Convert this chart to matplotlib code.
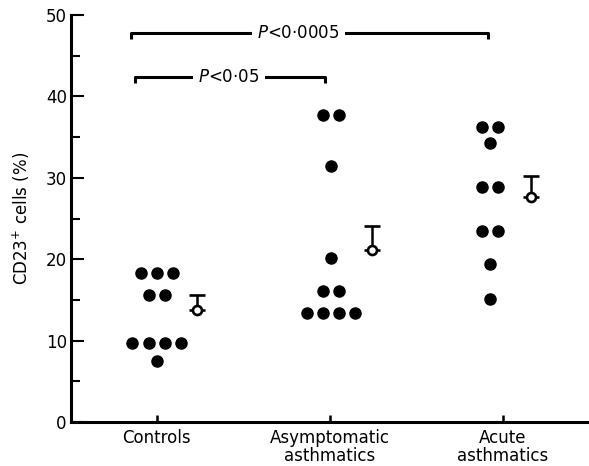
import matplotlib.pyplot as plt
import numpy as np

groups = ['Controls', 'Asymptomatic\nasthmatics', 'Acute\nasthmatics']
controls = [18.3, 18.3, 18.3, 15.6, 15.6, 9.7, 9.7, 9.7, 9.7, 7.5]
asymptomatic = [37.7, 37.7, 31.4, 20.1, 16.1, 16.1, 13.4, 13.4, 13.4, 13.4]
acute = [36.2, 36.2, 34.3, 28.9, 28.9, 23.5, 23.5, 19.4, 15.1]
means = [13.8, 21.1, 27.6]
sems = [1.8, 3.0, 2.6]
comparisons = [(0.85, 2.915, 47.8, 'P<0·0005', 1.82),
               (0.875, 1.975, 42.4, 'P<0·05', 1.42)]


def tieOffsets(vals, step):
    # spread equal values side by side, centred on the column
    vals = np.asarray(vals)
    off = np.zeros(len(vals))
    for v in np.unique(vals):
        idx = np.where(vals == v)[0]
        off[idx] = (np.arange(len(idx)) - (len(idx) - 1) / 2) * step
    return off


fig = plt.figure(figsize=(5.89, 4.66), dpi=100)
ax = fig.add_axes([0.1205, 0.0944, 0.8795, 0.8734])

centres = [1.0, 2.01, 2.93]
for c, vals in zip(centres, [controls, asymptomatic, acute]):
    x = c + tieOffsets(vals, 0.093)
    ax.plot(x, vals, 'o', color='black', markersize=8, linestyle='none')

for c, m, s in zip(centres, means, sems):
    ax.errorbar(c + 0.235, m, yerr=[[0], [s]], fmt='o', color='black',
                mfc='white', mec='black', markersize=6.5, mew=1.9,
                elinewidth=1.8, capsize=6, capthick=2.2, zorder=3)

for x0, x1, y, txt, xt in comparisons:
    ax.plot([x0, x0, x1, x1], [y - 0.7, y, y, y - 0.7], color='black',
            lw=2.2, solid_capstyle='butt')
    label = r'$P$' + txt[1:]
    ax.text(xt, y, label, ha='center', va='center', fontsize=12,
            bbox=dict(facecolor='white', edgecolor='none', pad=4))

ax.set_xlim(0.505, 3.5)
ax.set_ylim(0, 50)
ax.set_xticks([1, 2, 3])
ax.set_xticklabels(groups, fontsize=12, linespacing=1.0)
ax.set_yticks(np.arange(0, 51, 10))
ax.set_yticks(np.arange(5, 50, 10), minor=True)
ax.tick_params(axis='y', which='major', direction='in', length=9, width=1.5,
               labelsize=12, pad=3)
ax.tick_params(axis='y', which='minor', direction='in', length=6.5, width=1.5)
ax.tick_params(axis='x', direction='in', length=5, width=1.8, pad=5)
ax.set_ylabel('CD23$^{+}$ cells (%)', fontsize=12, labelpad=10)

ax.spines['top'].set_visible(False)
ax.spines['right'].set_visible(False)
ax.spines['left'].set_linewidth(2.2)
ax.spines['bottom'].set_linewidth(2.2)

fig.savefig('out.png', dpi=100)
